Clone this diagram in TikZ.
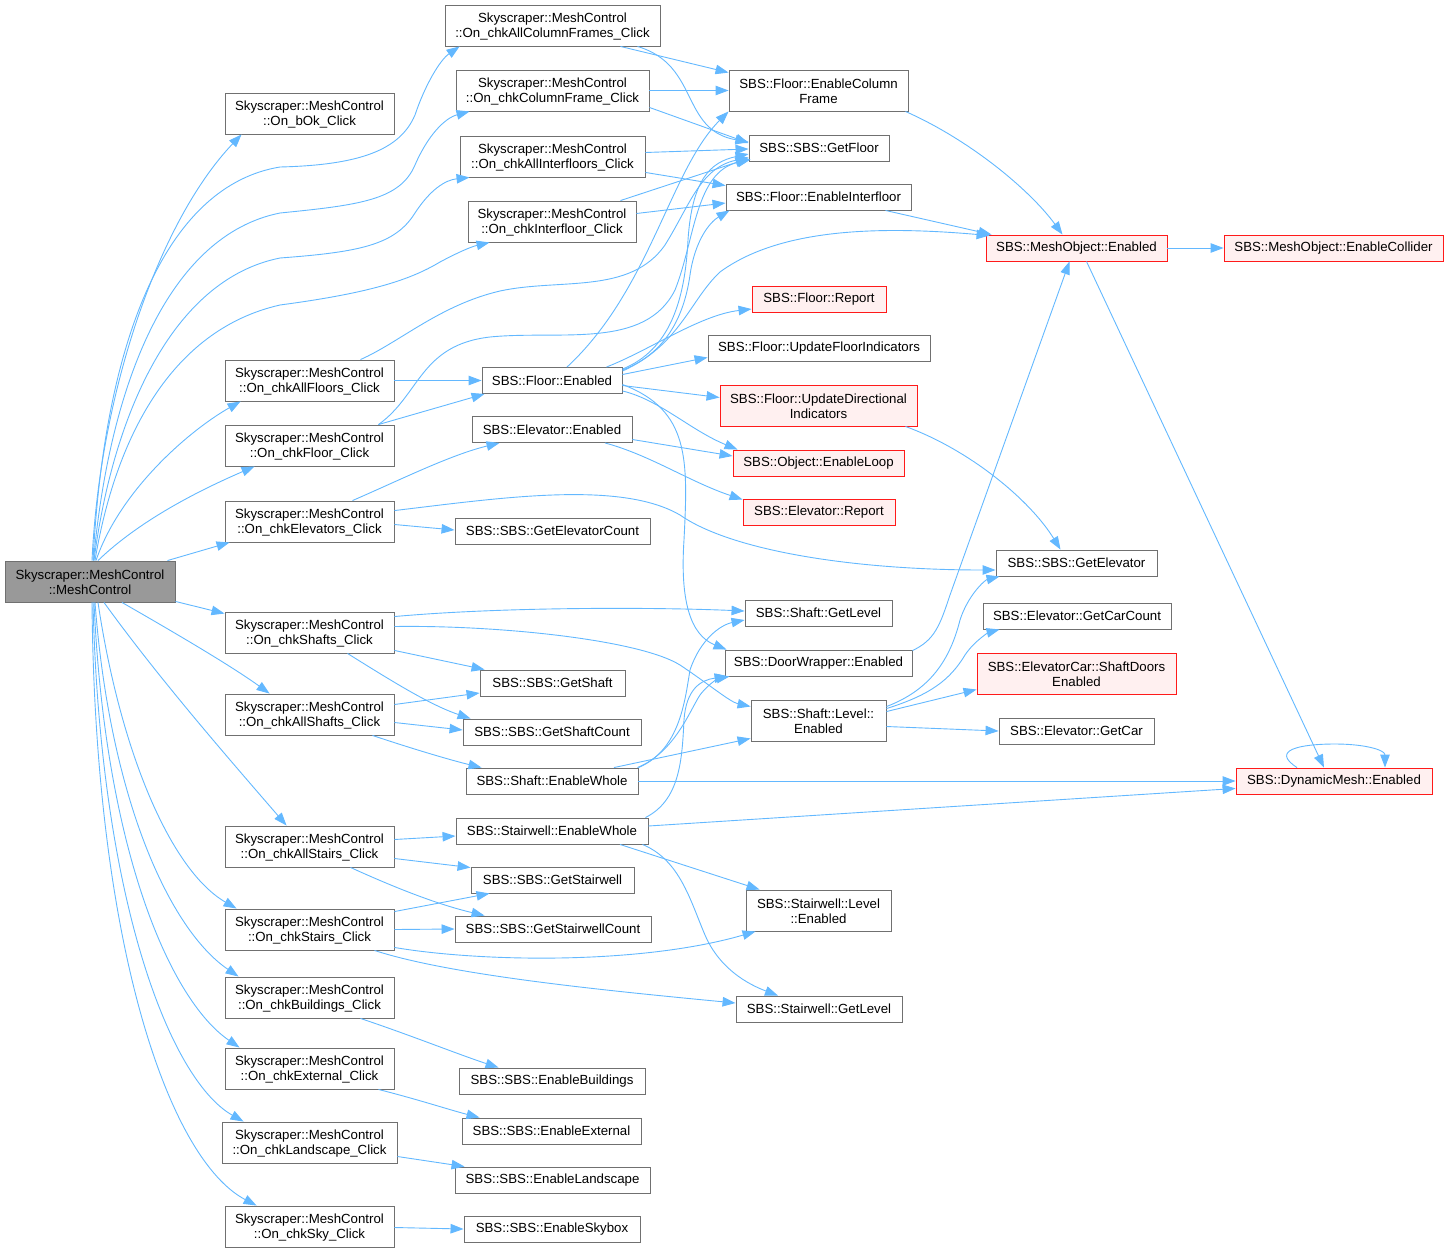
\documentclass[tikz,border=0pt]{standalone}
\usepackage{fontspec}
\setmainfont{Liberation Sans}
\usetikzlibrary{arrows.meta,calc}
\definecolor{edgecol}{HTML}{63B8FF}
\definecolor{nodegray}{HTML}{707070}
\definecolor{rootfill}{HTML}{999999}
\definecolor{redfill}{HTML}{FFF0F0}
\definecolor{redline}{HTML}{FF1A1A}
\newcommand\nd[7]{\node[#1, minimum width=#5pt, minimum height=#6pt] (#2) at (#3,#4) {};
  \ifnum#6>30\relax\node[txt] (#2t) at ($(#2.center)+(0,1.2)$) {#7};\else\node[txt] (#2t) at (#2.center) {#7};\fi}
\begin{document}
\begin{tikzpicture}[x=1pt,y=-1pt,
  box/.style={draw=nodegray, fill=white, line width=0.9pt, inner sep=0pt},
  txt/.style={inner sep=0pt, align=center, font=\fontsize{13.25}{15}\selectfont},
  rootbox/.style={box, fill=rootfill},
  redbox/.style={box, draw=redline, fill=redfill},
  e/.style={draw=edgecol, line width=0.9pt, -{Triangle[length=13pt,width=9.5pt]}}]
\useasboundingbox (0,0) rectangle (1449,1253);
% left column
\nd{rootbox}{root}{90}{581.5}{170}{41}{Skyscraper::MeshControl\\::MeshControl}
\nd{box}{bok}{309.5}{113.5}{169}{41}{Skyscraper::MeshControl\\::On\_bOk\_Click}
\nd{box}{aflo}{309.5}{380.5}{169}{41}{Skyscraper::MeshControl\\::On\_chkAllFloors\_Click}
\nd{box}{flo}{309.5}{445.5}{169}{41}{Skyscraper::MeshControl\\::On\_chkFloor\_Click}
\nd{box}{elev}{309.5}{521.5}{169}{41}{Skyscraper::MeshControl\\::On\_chkElevators\_Click}
\nd{box}{shafts}{309.5}{632.5}{169}{41}{Skyscraper::MeshControl\\::On\_chkShafts\_Click}
\nd{box}{ashafts}{309.5}{714.5}{169}{41}{Skyscraper::MeshControl\\::On\_chkAllShafts\_Click}
\nd{box}{astairs}{309.5}{846.5}{169}{41}{Skyscraper::MeshControl\\::On\_chkAllStairs\_Click}
\nd{box}{stairs}{309.5}{929.5}{169}{41}{Skyscraper::MeshControl\\::On\_chkStairs\_Click}
\nd{box}{bld}{309.5}{997.5}{169}{41}{Skyscraper::MeshControl\\::On\_chkBuildings\_Click}
\nd{box}{ext}{309.5}{1068.5}{169}{41}{Skyscraper::MeshControl\\::On\_chkExternal\_Click}
\nd{box}{land}{309.5}{1142.5}{175}{41}{Skyscraper::MeshControl\\::On\_chkLandscape\_Click}
\nd{box}{sky}{309.5}{1226.5}{169}{41}{Skyscraper::MeshControl\\::On\_chkSky\_Click}
% second column
\nd{box}{acf}{552.5}{25.5}{215}{41}{Skyscraper::MeshControl\\::On\_chkAllColumnFrames\_Click}
\nd{box}{cf}{552.5}{90.5}{193}{41}{Skyscraper::MeshControl\\::On\_chkColumnFrame\_Click}
\nd{box}{aif}{552.5}{156.5}{185}{41}{Skyscraper::MeshControl\\::On\_chkAllInterfloors\_Click}
\nd{box}{inf}{552}{221.5}{168}{41}{Skyscraper::MeshControl\\::On\_chkInterfloor\_Click}
\nd{box}{floen}{552}{380.5}{140}{26}{SBS::Floor::Enabled}
\nd{box}{elen}{552}{429.5}{160}{26}{SBS::Elevator::Enabled}
\nd{box}{gecnt}{552.5}{531}{195}{26}{SBS::SBS::GetElevatorCount}
\nd{box}{gshaft}{552.5}{683}{145}{26}{SBS::SBS::GetShaft}
\nd{box}{gscnt}{552}{732}{178}{26}{SBS::SBS::GetShaftCount}
\nd{box}{shew}{552}{781}{172}{26}{SBS::Shaft::EnableWhole}
\nd{box}{stew}{552}{831}{192}{26}{SBS::Stairwell::EnableWhole}
\nd{box}{gstw}{552.5}{880}{163}{26}{SBS::SBS::GetStairwell}
\nd{box}{gstwc}{553}{929}{196}{26}{SBS::SBS::GetStairwellCount}
\nd{box}{enbld}{552}{1081}{186}{26}{SBS::SBS::EnableBuildings}
\nd{box}{enext}{551.5}{1131}{179}{26}{SBS::SBS::EnableExternal}
\nd{box}{enland}{552.5}{1180}{195}{26}{SBS::SBS::EnableLandscape}
\nd{box}{ensky}{552}{1229}{176}{26}{SBS::SBS::EnableSkybox}
% third column
\nd{box}{encf}{818.5}{90.5}{179}{41}{SBS::Floor::EnableColumn\\Frame}
\nd{box}{getfloor}{819}{148}{140}{26}{SBS::SBS::GetFloor}
\nd{box}{enif}{818.5}{197}{185}{26}{SBS::Floor::EnableInterfloor}
\nd{redbox}{frep}{819}{299}{134}{26}{SBS::Floor::Report}
\nd{box}{ufi}{819}{348}{222}{26}{SBS::Floor::UpdateFloorIndicators}
\nd{redbox}{udi}{818.5}{405.5}{197}{41}{SBS::Floor::UpdateDirectional\\Indicators}
\nd{redbox}{eloop}{818.5}{463}{171}{26}{SBS::Object::EnableLoop}
\nd{redbox}{erep}{819}{512}{152}{26}{SBS::Elevator::Report}
\nd{box}{sgl}{818.5}{613}{147}{26}{SBS::Shaft::GetLevel}
\nd{box}{dwe}{818.5}{663}{187}{26}{SBS::DoorWrapper::Enabled}
\nd{box}{sle}{818.5}{720.5}{135}{41}{SBS::Shaft::Level::\\Enabled}
\nd{box}{stle}{818.5}{910.5}{145}{41}{SBS::Stairwell::Level\\::Enabled}
\nd{box}{stgl}{819}{1009}{166}{26}{SBS::Stairwell::GetLevel}
% fourth column
\nd{redbox}{moe}{1076.5}{248}{181}{26}{SBS::MeshObject::Enabled}
\nd{box}{gele}{1076.5}{563}{161}{26}{SBS::SBS::GetElevator}
\nd{box}{gcc}{1077}{616}{188}{26}{SBS::Elevator::GetCarCount}
\nd{redbox}{sde}{1076.5}{673.5}{199}{41}{SBS::ElevatorCar::ShaftDoors\\Enabled}
\nd{box}{gcar}{1076.5}{731}{155}{26}{SBS::Elevator::GetCar}
% fifth column
\nd{redbox}{ecol}{1333.5}{248}{219}{26}{SBS::MeshObject::EnableCollider}
\nd{redbox}{dme}{1334}{781}{196}{26}{SBS::DynamicMesh::Enabled}

% fan from root
\draw[e] ($(root.north)+(2,0)$) .. controls (100,390) and (160,220) .. ($(bok.south west)+(17,0)$);
\draw[e] ($(root.north)+(3,0)$) .. controls (105,330) and (170,185) .. (280,167) .. controls (360,165) and (400,150) .. (415,115) .. controls (425,85) and (440,60) .. ($(acf.south west)+(15,0)$);
\draw[e] ($(root.north)+(3.5,0)$) .. controls (110,380) and (170,235) .. (280,213) .. controls (360,205) and (400,200) .. (415,165) .. controls (428,135) and (445,118) .. ($(cf.south west)+(14,0)$);
\draw[e] ($(root.north)+(4,0)$) .. controls (112,420) and (170,280) .. (280,258) .. controls (360,252) and (395,245) .. (415,213) .. controls (430,190) and (445,180) .. ($(aif.south west)+(10,0)$);
\draw[e] ($(root.north)+(5,0)$) .. controls (115,440) and (170,330) .. (280,305) .. controls (370,293) and (410,280) .. (440,262) .. controls (455,254) and (470,247) .. ($(inf.south west)+(22,0)$);
\draw[e] ($(root.north)+(6,0)$) .. controls (120,490) and (190,430) .. ($(aflo.south west)+(16,0)$);
\draw[e] ($(root.north)+(8,0)$) .. controls (140,520) and (200,490) .. ($(flo.south west)+(30,0)$);
\draw[e] ($(root.north east)+(-8,0)$) -- ($(elev.south west)+(5,0)$);
\draw[e] ($(root.south east)+(0,-1)$) -- ($(shafts.north west)+(0,2)$);
\draw[e] ($(root.south)+(32,0)$) .. controls (170,630) and (230,665) .. ($(ashafts.north west)+(45,0)$);
\draw[e] ($(root.south)+(14,0)$) .. controls (160,680) and (230,760) .. ($(astairs.north west)+(62,0)$);
\draw[e] ($(root.south)+(8,0)$) .. controls (120,750) and (170,870) .. ($(stairs.north west)+(12,0)$);
\draw[e] ($(root.south)+(5,0)$) .. controls (110,800) and (170,930) .. ($(bld.north west)+(14,0)$);
\draw[e] ($(root.south)+(4,0)$) .. controls (105,850) and (170,1000) .. ($(ext.north west)+(15,0)$);
\draw[e] ($(root.south)+(3,0)$) .. controls (100,900) and (170,1080) .. ($(land.north west)+(22,0)$);
\draw[e] ($(root.south)+(2,0)$) .. controls (95,950) and (170,1160) .. ($(sky.north west)+(32,0)$);

% handlers of top group
\draw[e] ($(acf.south east)+(-40,0)$) -- ($(encf.north west)+(0,3)$);
\draw[e] ($(acf.south east)+(-23,0)$) .. controls (700,65) and (680,130) .. ($(getfloor.west)+(0,-6)$);
\draw[e] (cf.east) -- (encf.west);
\draw[e] ($(cf.south east)+(0,-4)$) -- ($(getfloor.west)+(0,-5)$);
\draw[e] ($(aif.east)+(0,-4)$) -- ($(getfloor.west)+(0,1)$);
\draw[e] ($(aif.south east)+(0,-5)$) -- ($(enif.north west)+(0,2)$);
\draw[e] ($(inf.north east)+(-16,0)$) -- ($(getfloor.south west)+(0,-3)$);
\draw[e] ($(inf.east)+(0,-8)$) -- ($(enif.west)+(0,6)$);

% floors
\draw[e] (aflo.east) -- (floen.west);
\draw[e] ($(aflo.north)+(51,0)$) .. controls (400,342) and (440,305) .. (500,291) .. controls (560,278) and (630,295) .. (665,245) .. controls (690,205) and (700,168) .. ($(getfloor.south west)+(0,-4)$);
\draw[e] ($(flo.north east)+(-16,0)$) -- ($(floen.south west)+(3,0)$);
\draw[e] ($(flo.north east)+(-16,0)$) .. controls (420,395) and (420,345) .. (490,337) .. controls (560,330) and (645,350) .. (675,290) .. controls (695,240) and (695,172) .. ($(getfloor.south west)+(2,-2)$);

% elevators
\draw[e] ($(elev.north)+(43,0)$) .. controls (400,480) and (450,455) .. ($(elen.south west)+(28,0)$);
\draw[e] ($(elev.east)+(0,3)$) -- ($(gecnt.west)+(0,-1)$);
\draw[e] ($(elev.north east)+(0,10)$) .. controls (500,498) and (620,480) .. (680,515) .. controls (730,550) and (850,570) .. ($(gele.west)+(0,7)$);

% shafts
\draw[e] ($(shafts.north east)+(0,5)$) .. controls (500,607) and (650,607) .. ($(sgl.west)+(0,-2)$);
\draw[e] ($(shafts.east)+(0,-6)$) .. controls (500,625) and (640,640) .. (680,665) .. controls (710,685) and (730,702) .. ($(sle.west)+(0,-14)$);
\draw[e] ($(shafts.south east)+(0,-3)$) -- ($(gshaft.north west)+(5,0)$);
\draw[e] ($(shafts.south)+(38,0)$) .. controls (390,680) and (430,705) .. ($(gscnt.north west)+(8,0)$);
\draw[e] ($(ashafts.east)+(0,-10)$) -- ($(gshaft.west)+(0,10)$);
\draw[e] ($(ashafts.east)+(0,8)$) -- ($(gscnt.west)+(0,-2)$);
\draw[e] ($(ashafts.south)+(63,0)$) .. controls (410,748) and (450,760) .. ($(shew.north west)+(16,0)$);

% Floor::Enabled
\draw[e] ($(floen.north)+(15,0)$) .. controls (650,290) and (670,170) .. (encf.south west);
\draw[e] ($(floen.north east)+(0,2)$) .. controls (670,350) and (685,300) .. (688,240) .. controls (692,180) and (710,162) .. ($(getfloor.west)+(0,6)$);
\draw[e] ($(floen.north east)+(0,3)$) .. controls (670,352) and (685,310) .. (690,275) .. controls (695,240) and (710,222) .. ($(enif.south west)+(4,0)$);
\draw[e] ($(floen.north east)+(0,4)$) .. controls (680,345) and (690,300) .. (720,272) .. controls (780,228) and (880,226) .. ($(moe.north west)+(4,1)$);
\draw[e] ($(floen.north east)+(-16,0)$) .. controls (650,350) and (700,315) .. ($(frep.west)+(0,10)$);
\draw[e] ($(floen.east)+(0,-6)$) -- ($(ufi.south west)+(0,-4)$);
\draw[e] ($(floen.east)+(0,5)$) -- ($(udi.west)+(0,-8)$);
\draw[e] ($(floen.south east)+(0,-3)$) .. controls (660,400) and (690,430) .. ($(eloop.north west)+(5,0)$);
\draw[e] ($(floen.east)+(0,4)$) .. controls (690,410) and (688,460) .. (684,540) .. controls (680,600) and (690,635) .. ($(dwe.north west)+(2,0)$);

% Elevator::Enabled
\draw[e] ($(elen.east)+(0,10)$) -- ($(eloop.west)+(0,-7)$);
\draw[e] ($(elen.south)+(53,0)$) .. controls (650,455) and (690,482) .. ($(erep.north west)+(0,1)$);

% MeshObject
\draw[e] ($(encf.south east)+(-3,0)$) .. controls (970,140) and (1030,190) .. ($(moe.north)+(-14,0)$);
\draw[e] ($(enif.south east)+(-26,0)$) -- ($(moe.north west)+(6,0)$);
\draw[e] (moe.east) -- (ecol.west);
\draw[e] ($(moe.south)+(10,0)$) -- ($(dme.north)+(-10,0)$);
\draw[e] ($(dwe.north east)+(0,1)$) .. controls (935,640) and (940,625) .. (950,595) -- ($(moe.south)+(-7,0)$);
\draw[e] ($(udi.south east)+(-12,0)$) .. controls (970,450) and (1030,500) .. ($(gele.north)+(-16,0)$);

% Shaft::EnableWhole
\draw[e] (shew.north east) .. controls (680,750) and (685,700) .. (690,670) .. controls (700,640) and (720,625) .. ($(sgl.west)+(0,7)$);
\draw[e] ($(shew.north east)+(-1,0)$) .. controls (675,752) and (690,710) .. (700,695) .. controls (710,682) and (720,678) .. ($(dwe.south west)+(5,0)$);
\draw[e] ($(shew.north)+(62,0)$) -- ($(sle.south west)+(0,-3)$);
\draw[e] (shew.east) -- (dme.west);

% Stairwell::EnableWhole
\draw[e] ($(stew.north east)+(-3,0)$) .. controls (680,800) and (682,760) .. (684,720) .. controls (686,690) and (700,680) .. ($(dwe.south west)+(3,0)$);
\draw[e] ($(stew.east)+(0,-5)$) -- ($(dme.south west)+(0,-6)$);
\draw[e] ($(stew.south)+(68,0)$) -- ($(stle.north west)+(14,0)$);
\draw[e] ($(stew.south east)+(-6,0)$) .. controls (680,860) and (690,900) .. (705,935) .. controls (720,970) and (750,985) .. ($(stgl.north)+(-41,0)$);

% stairs handlers
\draw[e] ($(astairs.east)+(0,-7)$) -- ($(stew.west)+(0,5)$);
\draw[e] ($(astairs.east)+(0,12)$) -- ($(gstw.north west)+(0,1)$);
\draw[e] ($(astairs.south)+(41,0)$) .. controls (400,890) and (440,905) .. ($(gstwc.north west)+(30,0)$);
\draw[e] ($(stairs.north east)+(0,3)$) -- ($(gstw.south west)+(19,0)$);
\draw[e] (stairs.east) -- (gstwc.west);
\draw[e] ($(stairs.south east)+(0,-3)$) .. controls (480,962) and (640,965) .. ($(stle.south west)+(10,0)$);
\draw[e] ($(stairs.south)+(65,0)$) .. controls (450,975) and (600,990) .. ($(stgl.west)+(0,-6)$);

% remaining handlers
\draw[e] ($(bld.south)+(51,0)$) .. controls (410,1035) and (460,1055) .. ($(enbld.north west)+(40,0)$);
\draw[e] ($(ext.south)+(69,0)$) .. controls (420,1100) and (450,1110) .. ($(enext.north west)+(18,0)$);
\draw[e] ($(land.east)+(0,14)$) -- ($(enland.north west)+(10,0)$);
\draw[e] ($(sky.east)+(0,1)$) -- (ensky.west);

% Shaft::Level::Enabled
\draw[e] ($(sle.north east)+(0,7)$) .. controls (930,690) and (950,660) .. (960,620) .. controls (968,595) and (985,580) .. ($(gele.south west)+(4,0)$);
\draw[e] ($(sle.north east)+(0,9)$) .. controls (930,695) and (950,680) .. (965,655) .. controls (975,640) and (990,632) .. ($(gcc.south west)+(17,0)$);
\draw[e] ($(sle.north east)+(0,12)$) -- ($(sde.west)+(0,16)$);
\draw[e] ($(sle.east)+(0,6)$) -- (gcar.west);

% self loop
\draw[e] ($(dme.north)+(-37,0)$) .. controls (1270,750) and (1300,744) .. (1335,744) .. controls (1365,744) and (1385,750) .. ($(dme.north)+(51,0)$);
\end{tikzpicture}
\end{document}
